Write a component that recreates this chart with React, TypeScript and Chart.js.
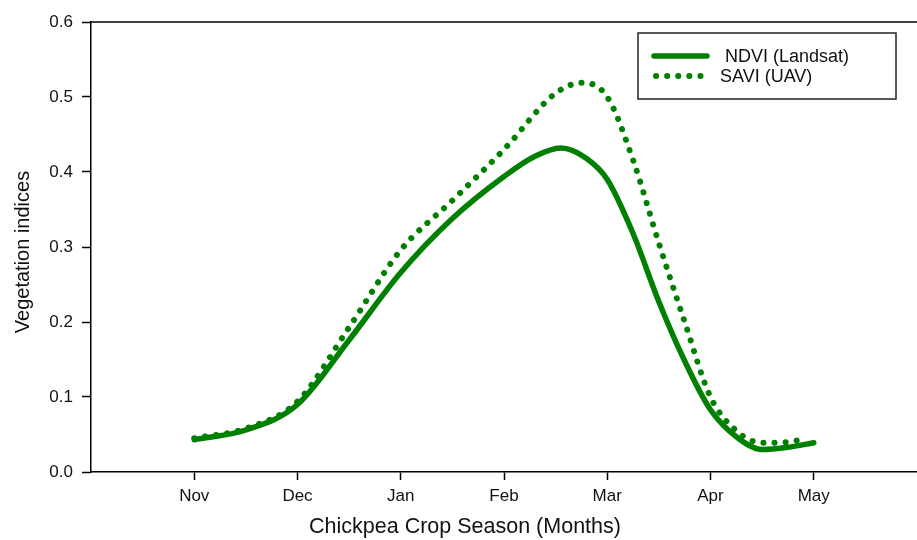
import React, { useEffect, useRef } from "react";
import { Chart, registerables } from "chart.js";

Chart.register(...registerables);

const monthLabels = ["Nov", "Dec", "Jan", "Feb", "Mar", "Apr", "May"];

const ndviX = [0, 0.5, 1, 1.5, 2, 2.5, 3, 3.3, 3.55, 3.8, 4, 4.25, 4.5, 4.75, 5, 5.25, 5.5, 5.75, 6];
const ndviY = [0.043, 0.056, 0.09, 0.176, 0.266, 0.338, 0.394, 0.421, 0.432, 0.418, 0.39, 0.318, 0.227, 0.148, 0.083, 0.047, 0.03, 0.033, 0.039];

const saviX = [0, 0.5, 1, 1.5, 2, 2.5, 3, 3.5, 3.76, 4, 4.25, 4.5, 4.75, 5, 5.25, 5.5, 5.75, 5.91];
const saviY = [0.045, 0.058, 0.094, 0.193, 0.296, 0.362, 0.43, 0.505, 0.519, 0.5, 0.416, 0.305, 0.2, 0.1, 0.055, 0.039, 0.04, 0.044];

const yTicks = [0, 0.1, 0.2, 0.3, 0.4, 0.5, 0.6];

const xTitle = "Chickpea Crop Season (Months)";
const yTitle = "Vegetation indices";

const GREEN = "#008000";
const FONT = "'Liberation Sans', Arial, sans-serif";

const framePlugin = {
  id: "frameAndLegend",
  afterDraw(chart: any) {
    const ctx = chart.ctx;
    const { left, right, top } = chart.chartArea;
    ctx.save();
    ctx.strokeStyle = "#000";
    ctx.lineWidth = 1.5;
    ctx.beginPath();
    ctx.moveTo(left, top);
    ctx.lineTo(right, top);
    ctx.stroke();

    // axis titles
    ctx.fillStyle = "#111";
    ctx.textAlign = "center";
    ctx.textBaseline = "middle";
    ctx.font = `21.5px ${FONT}`;
    ctx.fillText(xTitle, 465, 527);
    ctx.save();
    ctx.translate(23, 252);
    ctx.rotate(-Math.PI / 2);
    ctx.font = `20px ${FONT}`;
    ctx.fillText(yTitle, 0, 0);
    ctx.restore();

    // legend box
    ctx.lineWidth = 1.5;
    ctx.strokeStyle = "#222";
    ctx.strokeRect(638, 33, 258, 66);

    const ds = chart.data.datasets;
    ctx.strokeStyle = GREEN;
    ctx.lineWidth = 5.5;
    ctx.lineCap = "round";
    ctx.setLineDash([]);
    ctx.beginPath();
    ctx.moveTo(654, 56);
    ctx.lineTo(707, 56);
    ctx.stroke();
    ctx.lineWidth = 6;
    ctx.setLineDash([0.1, 11]);
    ctx.beginPath();
    ctx.moveTo(656, 76);
    ctx.lineTo(702, 76);
    ctx.stroke();
    ctx.setLineDash([]);

    ctx.fillStyle = "#111";
    ctx.font = `18px ${FONT}`;
    ctx.textBaseline = "middle";
    ctx.textAlign = "left";
    ctx.fillText(ds[0].label, 725, 57);
    ctx.fillText(ds[1].label, 720, 77);
    ctx.restore();
  },
};

export default function App() {
  const ref = useRef<HTMLCanvasElement>(null);

  useEffect(() => {
    if (!ref.current) return;
    const chart = new Chart(ref.current, {
      type: "line",
      data: {
        datasets: [
          {
            label: "NDVI (Landsat)",
            data: ndviX.map((x, i) => ({ x, y: ndviY[i] })),
            borderColor: GREEN,
            borderWidth: 5.5,
            borderCapStyle: "round",
            pointRadius: 0,
            cubicInterpolationMode: "monotone",
            fill: false,
          },
          {
            label: "SAVI (UAV)",
            data: saviX.map((x, i) => ({ x, y: saviY[i] })),
            borderColor: GREEN,
            borderWidth: 6,
            borderCapStyle: "round",
            borderDash: [0.1, 11],
            pointRadius: 0,
            cubicInterpolationMode: "monotone",
            fill: false,
          },
        ],
      },
      options: {
        animation: false,
        responsive: false,
        layout: { padding: { top: 22, right: 0, left: 0, bottom: 0 } },
        plugins: { legend: { display: false }, tooltip: { enabled: false } },
        scales: {
          x: {
            type: "linear",
            min: -1,
            max: 7,
            afterFit(scale: any) {
              scale.height = 68;
            },
            afterBuildTicks(scale: any) {
              scale.ticks = monthLabels.map((_, i) => ({ value: i }));
            },
            ticks: {
              color: "#111",
              font: { family: FONT, size: 17 },
              padding: 6,
              maxRotation: 0,
              autoSkip: false,
              callback: (v: any) => monthLabels[v] ?? "",
            },
            grid: {
              display: true,
              drawOnChartArea: false,
              drawTicks: true,
              tickLength: 8,
              tickWidth: 1.5,
              tickColor: "#000",
            },
            border: { display: true, color: "#000", width: 1.5 },
            title: { display: false },
          },
          y: {
            type: "linear",
            min: 0,
            max: 0.6,
            afterFit(scale: any) {
              scale.width = 91;
            },
            afterBuildTicks(scale: any) {
              scale.ticks = yTicks.map((v) => ({ value: v }));
            },
            ticks: {
              color: "#111",
              font: { family: FONT, size: 17 },
              padding: 9,
              callback: (v: any) => Number(v).toFixed(1),
            },
            grid: {
              display: true,
              drawOnChartArea: false,
              drawTicks: true,
              tickLength: 9,
              tickWidth: 1.5,
              tickColor: "#000",
            },
            border: { display: true, color: "#000", width: 1.5 },
            title: { display: false },
          },
        },
      },
      plugins: [framePlugin],
    } as any);
    return () => chart.destroy();
  }, []);

  return (
    <div style={{ position: "fixed", left: 0, top: 0, width: 917, height: 540, background: "#fff" }}>
      <canvas ref={ref} width={917} height={540} style={{ display: "block" }} />
    </div>
  );
}
